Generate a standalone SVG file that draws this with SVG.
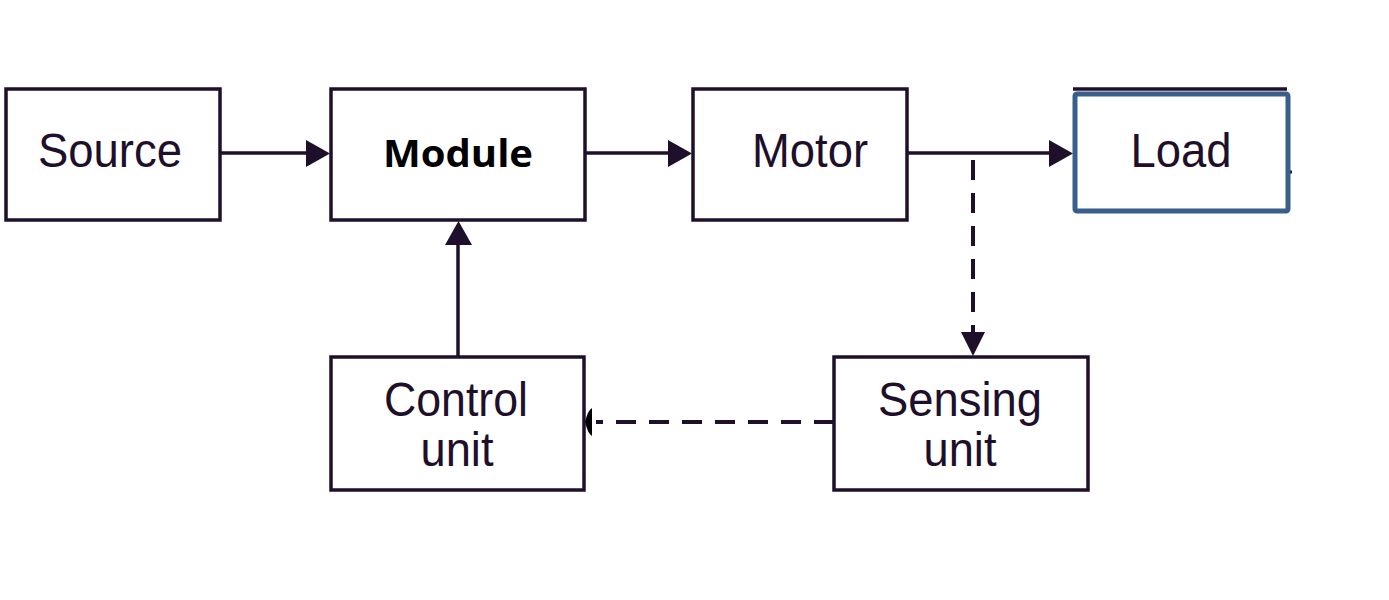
<svg xmlns="http://www.w3.org/2000/svg" width="1389" height="600" viewBox="0 0 1389 600">
<defs>
<style>
.box{fill:#fff;stroke:#1e0f2a;stroke-width:3.5}
.t{font-family:"Liberation Sans",Arial,sans-serif;font-size:48px;fill:#1e0f2a;text-anchor:middle}
.b{font-family:"Open Sans","Liberation Sans",sans-serif;font-weight:bold;font-size:37px;fill:#000;text-anchor:middle}
.ln{stroke:#1e0f2a;stroke-width:3.5;fill:none}
.dash{stroke:#1e0f2a;stroke-width:4;fill:none;stroke-dasharray:20 13}
.ah{fill:#1e0f2a}
</style>
</defs>
<rect width="1389" height="600" fill="#fff"/>
<g id="connectors">
<line class="ln" x1="220" y1="153" x2="310" y2="153"/>
<path class="ah" d="M306,140 L330,153.5 L306,167 Z"/>
<line class="ln" x1="585" y1="153" x2="672" y2="153"/>
<path class="ah" d="M668,140 L692,153.5 L668,167 Z"/>
<line class="ln" x1="907" y1="153" x2="1053" y2="153"/>
<path class="ah" d="M1049,140 L1073,153.5 L1049,167 Z"/>
<line class="ln" x1="458" y1="357" x2="458" y2="240"/>
<path class="ah" d="M445,245 L458.5,221 L472,245 Z"/>
<line class="dash" x1="973" y1="160" x2="973" y2="335"/>
<path class="ah" d="M961,332 L985,332 L973,356 Z"/>
<line class="dash" x1="834" y1="422" x2="596" y2="422"/>
<path d="M585,422 Q588,410 592,408 L592,436 Q588,434 585,422 Z" fill="#000"/>
</g>
<g id="source"><rect class="box" x="6" y="89" width="214" height="131"/><text class="t" x="110" y="167" textLength="144" lengthAdjust="spacingAndGlyphs">Source</text></g>
<g id="module"><rect class="box" x="331" y="89" width="254" height="131"/><text class="b" x="458" y="167" textLength="150" lengthAdjust="spacingAndGlyphs">Module</text></g>
<g id="motor"><rect class="box" x="693" y="89" width="214" height="131"/><text class="t" x="810" y="167" textLength="116" lengthAdjust="spacingAndGlyphs">Motor</text></g>
<g id="load">
<line x1="1073" y1="89" x2="1287" y2="89" stroke="#1e0f2a" stroke-width="3.5"/>
<line x1="1289" y1="172" x2="1292" y2="172" stroke="#1e0f2a" stroke-width="3"/>
<rect x="1075" y="94" width="213" height="117" fill="#fff" stroke="#3a5e8c" stroke-width="5" rx="2"/>
<text class="t" x="1181" y="167" textLength="101" lengthAdjust="spacingAndGlyphs">Load</text>
</g>
<g id="control"><rect class="box" x="331" y="357" width="253" height="133"/><text class="t" x="456" y="416" textLength="144" lengthAdjust="spacingAndGlyphs">Control</text><text class="t" x="457" y="466" textLength="73" lengthAdjust="spacingAndGlyphs">unit</text></g>
<g id="sensing"><rect class="box" x="834" y="357" width="254" height="133"/><text class="t" x="960" y="416" textLength="164" lengthAdjust="spacingAndGlyphs">Sensing</text><text class="t" x="960" y="466" textLength="73" lengthAdjust="spacingAndGlyphs">unit</text></g>
</svg>
